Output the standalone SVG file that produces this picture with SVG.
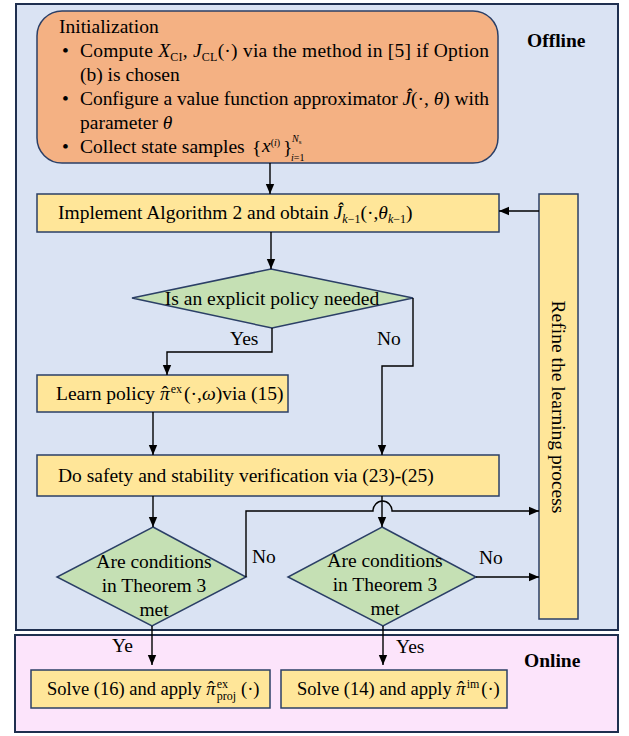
<svg xmlns="http://www.w3.org/2000/svg" width="629" height="736" viewBox="0 0 629 736">
<defs>
<marker id="ah" markerUnits="userSpaceOnUse" markerWidth="10" markerHeight="10" viewBox="0 0 10 10" refX="10" refY="5" orient="auto">
<path d="M0,0.8 L10,5 L0,9.2 z" fill="#000"/>
</marker>
</defs>
<style>
.t{font-family:"Liberation Serif","Times New Roman",serif;font-size:19.5px;fill:#000}
.sm{font-size:18.5px}
.b{font-weight:bold}
.i{font-style:italic}
.s{font-size:12px}
.ss{font-size:10px}
.frame{stroke:#1f2f4f;stroke-width:2}
.node{stroke:#2b3f66;stroke-width:1.5}
.y{fill:#ffe699}
.g{fill:#c5e0b4}
.c{fill:none;stroke:#000;stroke-width:1.4}
.a{marker-end:url(#ah)}
</style>
<g id="offline">
<rect class="frame" x="16" y="4" width="602" height="626" fill="#dae3f3"/>
<text class="t b" x="527" y="47">Offline</text>
</g>
<g id="online">
<rect class="frame" x="15" y="635" width="603" height="97" fill="#fce4fb"/>
<text class="t b" x="524" y="667">Online</text>
</g>
<g id="init">
<rect class="node" x="37" y="11" width="461" height="152" rx="25" fill="#f4b183"/>
<text class="t" x="59" y="33">Initialization</text>
<text class="t" x="62" y="57">•</text>
<text class="t" x="80" y="57" textLength="409" lengthAdjust="spacing">Compute <tspan class="i">X</tspan><tspan class="s" dy="4">CI</tspan><tspan dy="-4">, </tspan><tspan class="i">J</tspan><tspan class="s" dy="4">CL</tspan><tspan dy="-4">(·) via the method in  [5] if Option</tspan></text>
<text class="t" x="80" y="81">(b) is chosen</text>
<text class="t" x="62" y="105">•</text>
<text class="t" x="80" y="105" textLength="409" lengthAdjust="spacing">Configure a value function approximator <tspan class="i">Ĵ</tspan>(·, <tspan class="i">θ</tspan>) with</text>
<text class="t" x="80" y="129">parameter  <tspan class="i">θ</tspan></text>
<text class="t" x="62" y="153">•</text>
<text class="t" x="80" y="153">Collect state samples</text>
<text class="t" x="252" y="154" font-size="21">{</text>
<text class="t" x="262" y="152" font-size="15"><tspan class="i">x</tspan><tspan class="ss" dy="-6">(<tspan class="i">i</tspan>)</tspan></text>
<text class="t" x="283" y="154" font-size="21">}</text>
<text class="t ss" x="292" y="142"><tspan class="i">N</tspan><tspan font-size="7" dy="2">s</tspan></text>
<text class="t ss" x="291" y="161"><tspan class="i">i</tspan>=1</text>
</g>
<g id="implement">
<rect class="node y" x="37" y="194" width="462" height="38"/>
<text class="t" x="58" y="219">Implement Algorithm 2 and obtain <tspan class="i">Ĵ</tspan><tspan class="s" dy="4"><tspan class="i">k</tspan>−1</tspan><tspan dy="-4">(·,</tspan><tspan class="i">θ</tspan><tspan class="s" dy="4"><tspan class="i">k</tspan>−1</tspan><tspan dy="-4">)</tspan></text>
</g>
<g id="refine">
<rect class="node y" x="539" y="194" width="39" height="425"/>
<text class="t" transform="translate(558,407) rotate(90)" x="0" y="6.5" text-anchor="middle">Refine the learning process</text>
</g>
<g id="explicit">
<polygon class="node g" points="271,269 413,298 272,328 132,298"/>
<text class="t" x="272" y="305" text-anchor="middle">Is an explicit policy needed</text>
</g>
<g id="learn">
<rect class="node y" x="37" y="375" width="251" height="37"/>
<text class="t" x="56" y="400">Learn policy <tspan class="i">π</tspan><tspan dx="-8" dy="-1">ˆ</tspan><tspan class="s" dx="2.5" dy="-6">ex</tspan><tspan dx="2" dy="7">(·,</tspan><tspan class="i">ω</tspan>)via (15)</text>
</g>
<g id="verify">
<rect class="node y" x="37" y="455" width="462" height="41"/>
<text class="t" x="58" y="482">Do safety and stability verification via (23)-(25)</text>
</g>
<g id="cond1">
<polygon class="node g" points="153,527 246,577 152,626 57,577"/>
<text class="t" x="154" y="568" text-anchor="middle">Are conditions</text>
<text class="t" x="154" y="592" text-anchor="middle">in Theorem 3</text>
<text class="t" x="154" y="616" text-anchor="middle">met</text>
</g>
<g id="cond2">
<polygon class="node g" points="382,527 476,577 383,626 288,577"/>
<text class="t" x="385" y="567" text-anchor="middle">Are conditions</text>
<text class="t" x="385" y="591" text-anchor="middle">in Theorem 3</text>
<text class="t" x="385" y="615" text-anchor="middle">met</text>
</g>
<g id="solve16">
<rect class="node y" x="31" y="670" width="239" height="38"/>
<text class="t sm" x="47" y="695">Solve (16) and apply <tspan class="i">π</tspan><tspan dx="-7.6" dy="-1">ˆ</tspan><tspan class="s" dx="2.5" dy="-6">ex</tspan><tspan class="s" dx="-11.3" dy="12">proj</tspan><tspan dx="5" dy="-5">(·)</tspan></text>
</g>
<g id="solve14">
<rect class="node y" x="281" y="670" width="226" height="38"/>
<text class="t sm" x="297" y="695">Solve (14) and apply <tspan class="i">π</tspan><tspan dx="-7.6" dy="-1">ˆ</tspan><tspan class="s" dx="2.5" dy="-6">im</tspan><tspan dx="2" dy="7">(·)</tspan></text>
</g>
<g id="connectors">
<path class="c a" d="M270,163 V194"/>
<path class="c a" d="M271,232 V269"/>
<path class="c a" d="M539,211 H499"/>
<path class="c a" d="M272,328 V352 H167 V375"/>
<path class="c a" d="M413,298 V366 H382 V455"/>
<path class="c a" d="M153,412 V455"/>
<path class="c a" d="M153,496 V527"/>
<path class="c a" d="M382,496 V527"/>
<path class="c a" d="M246,577 V511 H373 A9.5,10 0 0 1 392,511 H539"/>
<path class="c a" d="M476,577 H539"/>
<path class="c a" d="M152,626 V665"/>
<path class="c a" d="M383,626 V665"/>
<text class="t" x="230" y="345">Yes</text>
<text class="t" x="377" y="345">No</text>
<text class="t" x="252" y="563">No</text>
<text class="t" x="479" y="564">No</text>
<text class="t" x="112" y="652">Ye</text>
<text class="t" x="396" y="653">Yes</text>
</g>
</svg>
